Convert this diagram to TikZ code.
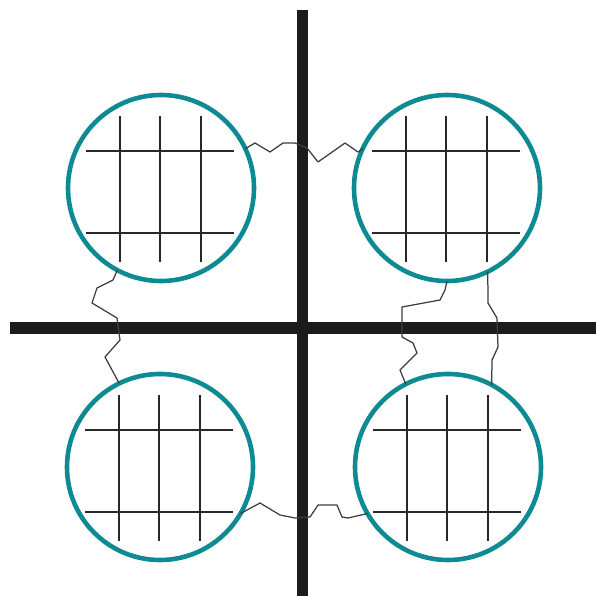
\documentclass[tikz,border=0pt]{standalone}
\usepackage{tikz}
\usetikzlibrary{positioning}
\definecolor{cellteal}{RGB}{14,138,146}
\definecolor{axisgrey}{RGB}{28,28,28}
\definecolor{meshgrey}{RGB}{40,40,40}
\tikzstyle{cell} = [circle, draw=cellteal, line width=4.6pt, minimum size=186pt,
	inner sep=0pt, outer sep=0pt]
\tikzstyle{axis} = [draw=axisgrey, line width=11.5pt]
\tikzstyle{mesh} = [draw=meshgrey, line width=2pt]
\tikzstyle{fibre} = [draw=meshgrey!90, line width=1.25pt, line join=round]

\begin{document}
\begin{tikzpicture}[x=1pt, y=-1pt]
		\useasboundingbox (0,0) rectangle (596,596);
		\coordinate (ytop) at (302.5,10);
		\coordinate (ybot) at (302.5,596);
		\coordinate (xleft) at (10,328);
		\coordinate (xright) at (596,328);
		\path [axis] (ytop) -- (ybot);
		\path [axis] (xleft) -- (xright);

		\node [cell] (tl) at (161,188) {};
		\node [cell] (tr) at (447,188) {};
		\node [cell] (bl) at (160,467) {};
		\node [cell] (br) at (448,467) {};

		% cross-hatched interior of each cell
		\foreach \c in {tl,tr,bl,br} {
			\begin{scope}[shift={(\c.center)}]
				\foreach \dx in {-41,-1,40}
					\path [mesh] (\dx,-72) -- (\dx,74);
				\foreach \dy in {-37,45}
					\path [mesh] (-75,\dy) -- (73,\dy);
			\end{scope}
		}

		% fibres between the cells
		\path [fibre] (tl.25) -- (255,143) -- (270,152) -- (283,143) -- (295,143)
			-- (307,148) -- (318,162) -- (345,143) -- (358,152) -- (tr.155);
		\path [fibre] (bl.-30) -- (260,503) -- (280,515) -- (295,518) -- (310,517)
			-- (318,505) -- (337,505) -- (342,517) -- (348,518) -- (br.-150);
		\path [fibre] (tl.-118) -- (113,280) -- (97,288) -- (92,303) -- (117,318)
			-- (120,340) -- (105,357) -- (bl.116);
		\path [fibre] (tr.-90) -- (445,290) -- (440,300) -- (402,307) -- (402,337)
			-- (413,343) -- (417,353) -- (400,370) -- (br.117);
		\path [fibre] (tr.-64) -- (488,303) -- (497,318) -- (498,347) -- (492,360)
			-- (br.62);
	\end{tikzpicture}
\end{document}
